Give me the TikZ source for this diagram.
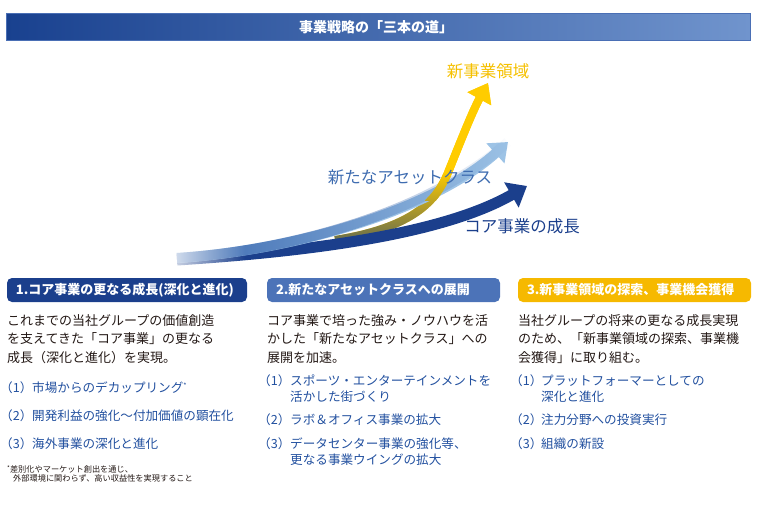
\documentclass[tikz,border=0pt]{standalone}
\usepackage{fontspec}
\setmainfont{Noto Sans CJK JP}
\usepackage{tikz}
\usetikzlibrary{arrows.meta,fadings}

\definecolor{barL}{HTML}{19418F}
\definecolor{barM}{HTML}{2452A2}
\definecolor{barR}{HTML}{7094CD}
\definecolor{barEdge}{HTML}{4A6FB5}
\definecolor{coreblue}{HTML}{1B3F8C}
\definecolor{assetmid}{HTML}{4C73B8}
\definecolor{assetlight}{HTML}{9DC3E6}
\definecolor{assetdark}{HTML}{3B69B0}
\definecolor{assetlabel}{HTML}{3E6CB0}
\definecolor{newgold}{HTML}{F6B900}
\definecolor{newyellow}{HTML}{FFCC00}
\definecolor{newlabel}{HTML}{F5C000}
\definecolor{newolive}{HTML}{626A52}
\definecolor{bodytext}{HTML}{231815}
\definecolor{itemblue}{HTML}{22509F}

\tikzfading[name=fade out right, left color=transparent!0, right color=transparent!100]
\tikzfading[name=fade out up, bottom color=transparent!0, top color=transparent!100]
\tikzfading[name=start fade, left color=transparent!15, right color=transparent!100]

\begin{document}
\begin{tikzpicture}[x=1pt, y=-1pt,
                    bodyline/.style={font=\fontsize{13}{16}\selectfont, text=bodytext, anchor=base west, inner sep=0pt},
                    itemline/.style={font=\fontsize{12.6}{16}\selectfont, text=itemblue, anchor=base west, inner sep=0pt},
                    noteline/.style={font=\fontsize{8.2}{10}\selectfont, text=bodytext, anchor=base west, inner sep=0pt},
                    header/.style={rounded corners=5pt, minimum height=24pt, inner xsep=9pt, inner ysep=0pt,
                                   text=white, font=\fontsize{13}{16}\selectfont\bfseries, align=left,
                                   text height=11pt, text depth=1.2pt},
                    arrowlabel/.style={font=\fontsize{16.5}{20}\selectfont, inner sep=0pt}]

    \useasboundingbox (0,0) rectangle (760,514);

    % title bar
    \shade[left color=barL, middle color=barM, right color=barR, draw=barEdge, line width=0.6pt] (6,13) rectangle (750,40);
    \node[font=\fontsize{14}{16}\selectfont\bfseries, text=white, inner sep=0pt] (title) at (376,27) {事業戦略の「三本の道」};

    % the three roads
    \coordinate (newstart) at (335,240);
    \coordinate (newbend) at (447,175);
    \coordinate (newtip) at (488,83);
    \coordinate (corestart) at (177,260);
    \coordinate (coretip) at (527,186);
    \coordinate (assetstart) at (177,258);
    \coordinate (assettip) at (508,142);

    \draw[newyellow, line width=8pt, -{Triangle[width=26pt, length=18pt]}]
        (newstart) .. controls (410,228) and (435,203) .. (newbend) .. controls (458,148) and (472,112) .. (newtip);
    \draw[newolive, line width=8pt, path fading=fade out up]
        (newstart) .. controls (410,228) and (435,203) .. (newbend);

    \draw[coreblue, line width=11pt, -{Triangle[width=28pt, length=18pt]}]
        (corestart) .. controls (300,252) and (440,236) .. (coretip);

    \draw[assetlight, line width=10pt, -{Triangle[width=26pt, length=17pt]}]
        (assetstart) .. controls (300,250) and (435,208) .. (assettip);
    \draw[assetdark, line width=10pt, path fading=fade out right]
        (assetstart) .. controls (300,250) and (435,208) .. (assettip);

    \fill[white, path fading=start fade] (168,236) rectangle (245,272);

    % yellow road crosses over the light blue one
    \begin{scope}
        \clip (425,60) rectangle (520,200);
        \draw[newyellow, line width=8pt, -{Triangle[width=26pt, length=18pt]}]
            (newstart) .. controls (410,228) and (435,203) .. (newbend) .. controls (458,148) and (472,112) .. (newtip);
        \draw[newolive, line width=8pt, path fading=fade out up]
            (newstart) .. controls (410,228) and (435,203) .. (newbend);
    \end{scope}

    \node[arrowlabel, text=newlabel] (newname) at (488,71) {新事業領域};
    \node[arrowlabel, text=assetlabel] (assetname) at (410,177) {新たなアセットクラス};
    \node[arrowlabel, text=coreblue] (corename) at (522,226) {コア事業の成長};

    % column headers
    \node[header, fill=coreblue, text width=222pt] (head1) at (127,290) {1.コア事業の更なる成長(深化と進化)};
    \node[header, fill=assetmid, text width=215pt] (head2) at (383.5,290) {2.新たなアセットクラスへの展開};
    \node[header, fill=newgold, text width=215pt] (head3) at (634.5,290) {3.新事業領域の探索、事業機会獲得};

    % column texts
    \foreach \t [count=\i] in {これまでの当社グループの価値創造, を支えてきた「コア事業」の更なる, 成長（深化と進化）を実現。}
        \node[bodyline] (body1-\i) at (7,{325+18.65*(\i-1)}) {\t};
    \foreach \t [count=\i] in {コア事業で培った強み・ノウハウを活, かした「新たなアセットクラス」への, 展開を加速。}
        \node[bodyline] (body2-\i) at (267,{325+18.65*(\i-1)}) {\t};
    \foreach \t [count=\i] in {当社グループの将来の更なる成長実現, のため、「新事業領域の探索、事業機, 会獲得」に取り組む。}
        \node[bodyline] (body3-\i) at (518,{325+18.65*(\i-1)}) {\t};

    % items, column 1
    \node[itemline] (num1-1) at (0,392.3) {（1）};
    \node[itemline] (item1-1) at (32,392.3) {市場からのデカップリング\raisebox{4pt}{\fontsize{7}{7}\selectfont *}};
    \node[itemline] (num1-2) at (0,420.5) {（2）};
    \node[itemline] (item1-2) at (32,420.5) {開発利益の強化～付加価値の顕在化};
    \node[itemline] (num1-3) at (0,448.3) {（3）};
    \node[itemline] (item1-3) at (32,448.3) {海外事業の深化と進化};

    % items, column 2
    \node[itemline] (num2-1) at (258,385.5) {（1）};
    \node[itemline] (item2-1) at (290,385.5) {スポーツ・エンターテインメントを};
    \node[itemline] (item2-1b) at (290,401.5) {活かした街づくり};
    \node[itemline] (num2-2) at (258,424.8) {（2）};
    \node[itemline] (item2-2) at (290,424.8) {ラボ＆オフィス事業の拡大};
    \node[itemline] (num2-3) at (258,448.8) {（3）};
    \node[itemline] (item2-3) at (290,448.8) {データセンター事業の強化等、};
    \node[itemline] (item2-3b) at (290,464.8) {更なる事業ウイングの拡大};

    % items, column 3
    \node[itemline] (num3-1) at (510,385.5) {（1）};
    \node[itemline] (item3-1) at (541,385.5) {プラットフォーマーとしての};
    \node[itemline] (item3-1b) at (541,401.5) {深化と進化};
    \node[itemline] (num3-2) at (510,424.8) {（2）};
    \node[itemline] (item3-2) at (541,424.8) {注力分野への投資実行};
    \node[itemline] (num3-3) at (510,448.8) {（3）};
    \node[itemline] (item3-3) at (541,448.8) {組織の新設};

    % footnote
    \node[noteline] (note1) at (7,472.1) {\raisebox{2pt}{\fontsize{6}{6}\selectfont *}差別化やマーケット創出を通じ、};
    \node[noteline] (note2) at (13,481.8) {外部環境に関わらず、高い収益性を実現すること};
\end{tikzpicture}
\end{document}
